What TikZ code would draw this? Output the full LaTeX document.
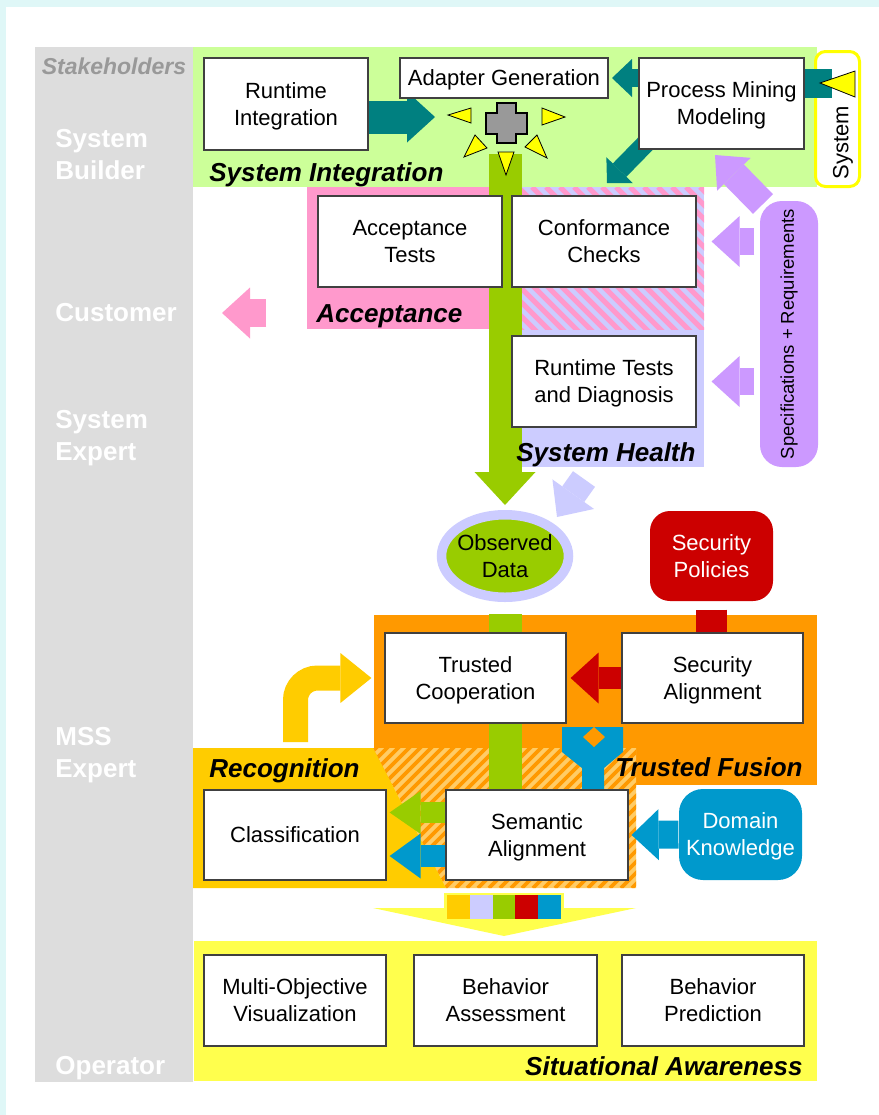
\documentclass[tikz,border=0pt]{standalone}
\usepackage{fontspec}
\setmainfont{Liberation Sans}
\usepackage{graphicx}
\usetikzlibrary{arrows.meta, shapes.geometric}

\definecolor{bgcyan}{HTML}{DFF7F7}
\definecolor{stakegray}{HTML}{DDDDDD}
\definecolor{stakeholdergray}{HTML}{999999}
\definecolor{sigreen}{HTML}{CCFF99}
\definecolor{tealc}{HTML}{008080}
\definecolor{datagreen}{HTML}{99CC00}
\definecolor{accpink}{HTML}{FF99CC}
\definecolor{healthlav}{HTML}{CCCCFF}
\definecolor{specpurple}{HTML}{CC99FF}
\definecolor{fusionorange}{HTML}{FF9900}
\definecolor{lightorange}{HTML}{FFCC66}
\definecolor{recogyellow}{HTML}{FFCC00}
\definecolor{sayellow}{HTML}{FFFF4D}
\definecolor{sparkyellow}{HTML}{FFFF00}
\definecolor{sysyellow}{HTML}{FFFF00}
\definecolor{polred}{HTML}{CC0000}
\definecolor{knowblue}{HTML}{0099CC}
\definecolor{crossgray}{HTML}{999999}

\newcommand\boxfont{\fontsize{11}{13.5}\selectfont}
\newcommand\rolefont{\fontsize{13}{16}\selectfont\bfseries}
\newcommand\areafont{\fontsize{13}{16}\selectfont\bfseries\itshape}
\newcommand\stakefont{\fontsize{11.5}{14}\selectfont\bfseries\itshape}
\newcommand\specfont{\fontsize{9.25}{11}\selectfont}

\pgfdeclarelayer{regions}
\pgfdeclarelayer{links}
\pgfsetlayers{regions,links,main}

\begin{document}
\begin{tikzpicture}[
            x = 0.5pt, y = -0.5pt, % one unit = one pixel of the sketch
            box/.style = {draw = black!75, line width = 0.6pt, fill = white,
                align = center, inner sep = 0pt, font = \boxfont, text depth = 0pt,
                minimum width = 91pt, minimum height = 45.5pt},
            role/.style = {font = \rolefont, text = white, inner sep = 0pt, anchor = base west},
            area/.style = {font = \areafont, inner sep = 0pt},
            fat/.style n args = {3}{line width = #1, % shaft, head width, head length
                -{Triangle[length = #3, width = #2, line width = 0pt]}},
            spark/.style = {fill = sparkyellow, draw = black, line width = 0.4pt}
        ]

        \useasboundingbox (0,0) rectangle (879,1115);

        % ends of the block arrows
        \coordinate (riTip) at (435,117);
        \coordinate (agTip) at (612,78);
        \coordinate (pmTail) at (652,137);
        \coordinate (pmTip) at (607,183);
        \coordinate (sysIn) at (832,83.5);
        \coordinate (specTail) at (763,204);
        \coordinate (specTip) at (715,155);
        \coordinate (cuTail) at (266,313);
        \coordinate (cuTip) at (222,313);
        \coordinate (hlTail) at (584,479);
        \coordinate (hlTip) at (557,517);
        \coordinate (dataTop) at (505,154);
        \coordinate (recTail) at (295.5,742);
        \coordinate (hub) at (506.5,123);

        % boxes
        \node[box, minimum width = 82pt, minimum height = 46pt] (ri) at (286,104) {Runtime\\Integration};
        \node[box, minimum width = 104pt, minimum height = 20pt] (ag) at (504,78) {Adapter Generation};
        \node[box, minimum width = 82.5pt] (pm) at (721.5,103.5) {Process Mining\\Modeling};
        \node[box, minimum width = 92pt] (acc) at (410,241.5) {Acceptance\\Tests};
        \node[box, minimum width = 92pt] (cc) at (604,241.5) {Conformance\\Checks};
        \node[box, minimum width = 92pt] (rt) at (604,381.5) {Runtime Tests\\and Diagnosis};
        \node[box, minimum width = 90.5pt, minimum height = 45pt] (tc) at (475.5,678) {Trusted\\Cooperation};
        \node[box, minimum width = 90.5pt, minimum height = 45pt] (sa) at (712.5,678) {Security\\Alignment};
        \node[box, minimum height = 45pt] (cl) at (295,835) {Classification};
        \node[box, minimum height = 45pt] (sem) at (537,835) {Semantic\\Alignment};
        \node[box] (mov) at (295,1000.5) {Multi-Objective\\Visualization};
        \node[box, minimum width = 91.5pt] (ba) at (505.5,1000.5) {Behavior\\Assessment};
        \node[box] (bp) at (713,1000.5) {Behavior\\Prediction};

        \node[ellipse, fill = datagreen, draw = healthlav, line width = 4.75pt, inner sep = 0pt,
            minimum width = 63.5pt, minimum height = 41.25pt] (od) at (505,556) {};
        \node[font = \boxfont, align = center, inner sep = 0pt, text depth = 0pt] (odtext) at (od) {Observed\\Data};
        \node[box, fill = polred, draw = none, text = white, rounded corners = 10pt,
            minimum width = 61.5pt, minimum height = 45pt] (sp) at (711.5,556) {Security\\Policies};
        \node[box, fill = knowblue, draw = none, text = white, rounded corners = 12pt,
            minimum width = 61.5pt, minimum height = 45.5pt] (dk) at (740.5,834.5) {Domain\\Knowledge};
        \node[box, fill = specpurple, draw = none, rounded corners = 11pt, font = \specfont,
            text depth = {}, minimum width = 29pt, minimum height = 133pt] (spec) at (789,334)
            {\rotatebox{90}{Specifications + Requirements}};
        \node[rotate = 90, font = \boxfont, inner sep = 0pt] (systext) at (843,142.5) {System};

        % adapter hub
        \draw[fill = crossgray, line width = 0.6pt] (497,103) -- (516,103) -- (516,113) -- (527,113)
            -- (527,134) -- (516,134) -- (516,143) -- (497,143) -- (497,134) -- (486,134)
            -- (486,113) -- (497,113) -- cycle;
        \draw[spark] (448,115) -- (471,108) -- (471,123) -- cycle;
        \draw[spark] (565,117) -- (542,108) -- (542,125) -- cycle;
        \draw[spark] (464,157) -- (475,135) -- (487,148) -- cycle;
        \draw[spark] (547,158) -- (537,135) -- (525,147) -- cycle;
        \draw[spark] (506,175) -- (498,152) -- (514,152) -- cycle;
        \draw[spark] (820,83) -- (855,71) -- (855,97) -- cycle;

        % stakeholders
        \node[font = \stakefont, text = stakeholdergray, inner sep = 0pt, anchor = base] (stake) at (114,74) {Stakeholders};
        \node[role] (sb1) at (55,147) {System};
        \node[role] (sb2) at (55,179) {Builder};
        \node[role] (cu) at (55,321) {Customer};
        \node[role] (se1) at (55,428) {System};
        \node[role] (se2) at (55,460) {Expert};
        \node[role] (mss1) at (55,745) {MSS};
        \node[role] (mss2) at (55,777) {Expert};
        \node[role] (op) at (55,1074) {Operator};

        % areas
        \node[area, anchor = base west] (lsi) at (209,181) {System Integration};
        \node[area, anchor = base west] (lacc) at (316,322) {Acceptance};
        \node[area, anchor = base west] (lsh) at (516,461) {System Health};
        \node[area, anchor = base west] (lrec) at (209,777) {Recognition};
        \node[area, anchor = base east] (ltf) at (803,776) {Trusted Fusion};
        \node[area, anchor = base east] (lsa) at (803,1075) {Situational Awareness};

        \begin{pgfonlayer}{regions}
            \fill[bgcyan] (0,0) rectangle (879,1115);
            \fill[white] (6,7) rectangle (879,1115);
            \fill[stakegray] (35,47) rectangle (193,1082);
            \fill[sigreen] (193,47) rectangle (817,187);
            \fill[accpink] (307,187) rectangle (506,329);
            \fill[healthlav] (506,187) rectangle (704,467);
            \begin{scope}
                \clip (506,187) rectangle (704,329);
                \foreach \k in {0,...,26}
                    \draw[accpink, line width = 2.6pt] (350+14*\k,187) -- ++(160,160);
            \end{scope}
            \fill[fusionorange] (374,615) rectangle (817,785);
            \fill[lightorange] (373,748) -- (636,748) -- (636,888) -- (446,888) -- cycle;
            \begin{scope}
                \clip (373,748) -- (636,748) -- (636,888) -- (446,888) -- cycle;
                \foreach \k in {0,...,38}
                    \draw[fusionorange, line width = 1.8pt] (225+11*\k,888) -- ++(150,-150);
            \end{scope}
            \fill[recogyellow] (193,748) -- (373,748) -- (446,888) -- (193,888) -- cycle;
            \fill[sayellow] (194,941) rectangle (817,1081);
            % merge into situational awareness
            \fill[sayellow] (373,908) -- (636,908) -- (504,936) -- cycle;
            \fill[sayellow] (444,893) rectangle (564,921);
            \foreach \c [count = \i from 0] in {recogyellow, healthlav, datagreen, polred, knowblue}
                \fill[fill = \c] (447+22.8*\i,895) rectangle ++(22.8,24);
            \node[draw = sysyellow, line width = 1.5pt, rounded corners = 5pt, inner sep = 0pt,
                minimum width = 22pt, minimum height = 67.5pt] (sys) at (837.5,119) {};
        \end{pgfonlayer}

        \begin{pgfonlayer}{links}
            % integration
            \draw[fat = {16.5pt}{25.5pt}{14pt}, tealc] (ri.east |- riTip) -- (riTip);
            \draw[fat = {9pt}{19pt}{10pt}, tealc] (pm.west |- agTip) -- (agTip);
            \draw[fat = {9.5pt}{18.5pt}{9pt}, tealc] (pmTail) -- (pmTip);
            \draw[tealc, line width = 14.5pt] (pm.east |- sysIn) -- (sysIn);
            % specifications
            \draw[fat = {14pt}{23.5pt}{13.5pt}, specpurple] (specTail) -- (specTip);
            \draw[fat = {13.5pt}{25.5pt}{14pt}, specpurple] ([xshift = -2.5pt]spec.west |- cc.east) -- ([xshift = 7.5pt]cc.east);
            \draw[fat = {13.5pt}{25.5pt}{14pt}, specpurple] ([xshift = -2.5pt]spec.west |- rt.east) -- ([xshift = 7.5pt]rt.east);
            \draw[fat = {14pt}{25.5pt}{14pt}, accpink] (cuTail) -- (cuTip);
            \draw[fat = {13.5pt}{25.5pt}{14pt}, healthlav] (hlTail) -- (hlTip);
            % observed data
            \draw[fat = {16.5pt}{30.5pt}{16.5pt}, datagreen] (dataTop) -- ([yshift = 2.5pt]od.north);
            \draw[datagreen, line width = 16.5pt] ([yshift = -6pt]od.south) -- (od.south |- sem.north);
            % trusted fusion
            \draw[polred, line width = 15.5pt] ([yshift = -4pt]sp.south) -- (sp.south |- sa.north);
            \draw[fat = {11pt}{25.5pt}{14pt}, polred] (sa.west) -- ([xshift = 2pt]tc.east);
            \draw[fat = {14pt}{25.5pt}{13.5pt}, knowblue] (dk.west) -- ([xshift = 1.5pt]sem.east);
            \fill[knowblue] (562,727) -- (623,727) -- (623,752) -- (604,768) -- (604,790)
                -- (582,790) -- (582,768) -- (562,752) -- cycle;
            \fill[fusionorange] (594,727) -- (605,737) -- (594,747) -- (583,737) -- cycle;
            % recognition
            \draw[fat = {10.5pt}{21.5pt}{15.5pt}, datagreen] ([yshift = 11.25pt]sem.west) -- ([yshift = 11.25pt, xshift = 1.5pt]cl.east);
            \draw[fat = {11pt}{22.5pt}{15.5pt}, knowblue] ([yshift = -10.5pt]sem.west) -- ([yshift = -10.5pt, xshift = 1.5pt]cl.east);
            \draw[fat = {12.5pt}{25pt}{15.5pt}, recogyellow, rounded corners = 11pt] (recTail) |- ([xshift = -6.5pt]tc.west);
        \end{pgfonlayer}

\end{tikzpicture}
\end{document}
